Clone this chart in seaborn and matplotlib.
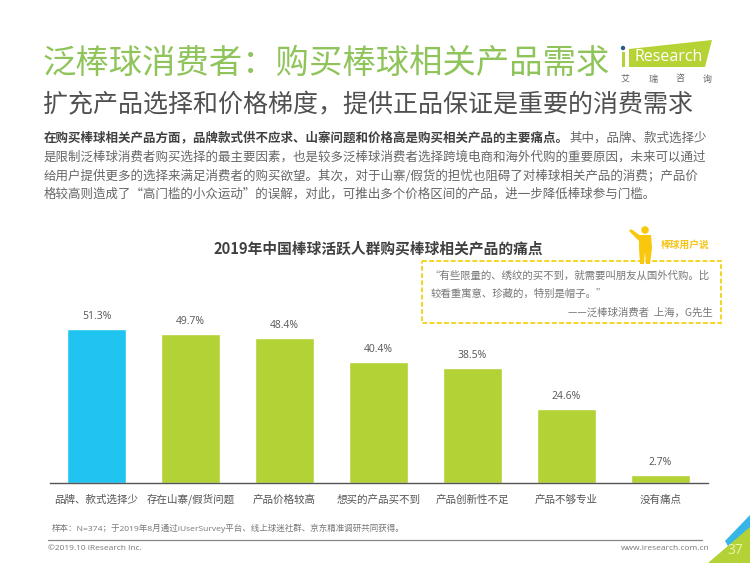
import matplotlib
matplotlib.use("Agg")
import matplotlib.pyplot as plt
from matplotlib.patches import Polygon, Rectangle, Circle
import pandas as pd
import seaborn as sns

# Chart data
categories = ["品牌、款式选择少", "存在山寨/假货问题", "产品价格较高", "想买的产品买不到",
              "产品创新性不足", "产品不够专业", "没有痛点"]
values = [51.3, 49.7, 48.4, 40.4, 38.5, 24.6, 2.7]
bar_colors = ["#1fc5f0", "#b2d235", "#b2d235", "#b2d235", "#b2d235", "#b2d235", "#b2d235"]

title = "泛棒球消费者：购买棒球相关产品需求"
subtitle = "扩充产品选择和价格梯度，提供正品保证是重要的消费需求"
chart_title = "2019年中国棒球活跃人群购买棒球相关产品的痛点"
body_bold = "在购买棒球相关产品方面，品牌款式供不应求、山寨问题和价格高是购买相关产品的主要痛点。"
body_tail = "其中，品牌、款式选择少"
body_lines = [
    "是限制泛棒球消费者购买选择的最主要因素，也是较多泛棒球消费者选择跨境电商和海外代购的重要原因，未来可以通过",
    "给用户提供更多的选择来满足消费者的购买欲望。其次，对于山寨/假货的担忧也阻碍了对棒球相关产品的消费；产品价",
    "格较高则造成了“高门槛的小众运动”的误解，对此，可推出多个价格区间的产品，进一步降低棒球参与门槛。",
]
quote_lines = ["“有些限量的、绣纹的买不到，就需要叫朋友从国外代购。比", "较看重寓意、珍藏的，特别是帽子。”"]
quote_by = "——泛棒球消费者  上海，G先生"
source = "样本：N=374；于2019年8月通过iUserSurvey平台、线上球迷社群、京东精准调研共同获得。"

W, H = 750, 563
LATIN = ["Open Sans", "Noto Sans CJK SC"]
sns.set_theme(style="white")
plt.rcParams["font.family"] = ["Noto Sans CJK SC", "DejaVu Sans"]

fig = plt.figure(figsize=(7.5, 5.63), dpi=100)


def px_axes(x0, y_top, x1, y_bottom):
    return [x0 / W, 1 - y_bottom / H, (x1 - x0) / W, (y_bottom - y_top) / H]


# full page overlay in pixel coordinates, y pointing down
page = fig.add_axes([0, 0, 1, 1])
page.set_xlim(0, W)
page.set_ylim(H, 0)
page.axis("off")

# bars
ax = fig.add_axes(px_axes(49.5, 304, 707.5, 483))
ax.patch.set_alpha(0)
df = pd.DataFrame({"category": categories, "value": values})
sns.barplot(data=df, x="category", y="value", hue="category", palette=bar_colors,
            legend=False, width=0.63, saturation=1, ax=ax)
ax.set_xlim(-0.5, 6.5)
ax.set_ylim(0, 59.7)
ax.set_xlabel("")
ax.set_ylabel("")
ax.set_yticks([])
sns.despine(ax=ax, left=True)
ax.spines["bottom"].set_color("#555555")
ax.spines["bottom"].set_linewidth(1.0)
ax.tick_params(axis="x", length=0, pad=12, labelsize=7.6, labelcolor="#555555")
for lbl in ax.get_xticklabels():
    lbl.set_va("center")
for c in ax.containers:
    ax.bar_label(c, fmt="%.1f%%", padding=5, fontsize=7.5, color="#555555", family=LATIN)

# heading
page.text(43, 63, title, fontsize=24, color="#8fc45a", va="center", ha="left", fontweight="light")
page.text(43, 105.5, subtitle, fontsize=18, color="#505050", va="center", ha="left", fontweight="light")

# body text
page.text(44, 138, body_bold, fontsize=9, color="#404040", va="center", ha="left", fontweight="bold")
page.text(569, 138, body_tail, fontsize=9, color="#666666", va="center", ha="left")
for y, line in zip([157, 176, 194.5], body_lines):
    page.text(44, y, line, fontsize=9, color="#666666", va="center", ha="left")

page.text(378, 248, chart_title, fontsize=10.6, color="#404040", va="center", ha="center", fontweight="bold")

# quote box
page.add_patch(Rectangle((422, 261), 299, 62, fill=False, ec="#f5d327", lw=1.4, ls=(0, (2.5, 1.2))))
page.text(430, 275, quote_lines[0], fontsize=7.5, color="#777777", va="center", ha="left")
page.text(431, 294, quote_lines[1], fontsize=7.5, color="#777777", va="center", ha="left")
page.text(713, 313, quote_by, fontsize=7.5, color="#777777", va="center", ha="right")

# user figure next to the box
gold = "#f9c80e"
page.add_patch(Circle((645, 230), 3.8, color=gold, lw=0))
page.add_patch(Polygon([(639, 235), (651, 235), (652, 248), (650, 264), (646, 264), (645, 252),
                        (644, 264), (640, 264), (639, 248)], color=gold, lw=0))
page.add_patch(Polygon([(629, 231), (631, 229), (641, 236), (640, 242)], color=gold, lw=0))
page.text(685, 245, "棒球用户说", fontsize=7, color="#f5c518", va="center", ha="center", fontweight="bold")

# logo
page.add_patch(Polygon([(629, 49), (712, 40), (705, 67), (629, 67)], color="#b5d334", lw=0))
page.add_patch(Circle((623, 48), 2.2, color="#2a5d84", lw=0))
page.add_patch(Rectangle((621.5, 52), 3.5, 15, color="#b5d334", lw=0))
page.text(634, 57, "Research", fontsize=11.5, color="white", va="center", ha="left", family="Open Sans")
for x, ch in zip([625, 653, 680, 707], "艾瑞咨询"):
    page.text(x, 79, ch, fontsize=6.5, color="#666666", va="center", ha="center")

# footer
page.text(52, 528.5, source, fontsize=6.1, color="#777777", va="center", ha="left", family=LATIN)
page.plot([48, 702], [540, 540], color="#888888", lw=0.9)
page.text(48, 549, "©2019.10 iResearch Inc.", fontsize=6, color="#777777", va="center", ha="left", family="Open Sans")
page.text(710, 549, "www.iresearch.com.cn", fontsize=6, color="#777777", va="center", ha="right", family="Open Sans")

# page corner
page.add_patch(Polygon([(750, 515), (750, 530), (728, 546), (725, 541)], color="#35b6e6", lw=0))
page.add_patch(Polygon([(750, 527), (750, 563), (708, 563)], color="#b2d235", lw=0))
page.text(735, 550, "37", fontsize=10, color="#eef3b0", va="center", ha="center", family="Open Sans")

fig.savefig("out.png", dpi=100, facecolor="white")
print("Saved: out.png")
